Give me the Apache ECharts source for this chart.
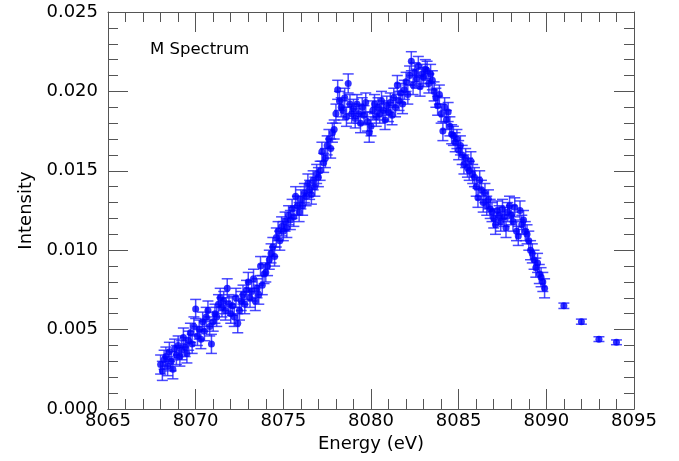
<!DOCTYPE html>
<html><head><meta charset="utf-8">
<script src="https://cdn.jsdelivr.net/npm/echarts@6/dist/echarts.min.js"></script>
<style>html,body{margin:0;padding:0;background:#fff}#c{width:679px;height:461px}</style>
</head><body><div id="c"></div>
<script>
const energy = [
8068.0,8068.1,8068.2,8068.3,8068.4,8068.5,8068.6,8068.7,8068.8,8068.9,
8069.0,8069.1,8069.2,8069.3,8069.4,8069.5,8069.6,8069.7,8069.8,8069.9,
8070.0,8070.1,8070.2,8070.3,8070.4,8070.5,8070.6,8070.7,8070.8,8070.9,
8071.0,8071.1,8071.2,8071.3,8071.4,8071.5,8071.6,8071.7,8071.8,8071.9,
8072.0,8072.1,8072.2,8072.3,8072.4,8072.5,8072.6,8072.7,8072.8,8072.9,
8073.0,8073.1,8073.2,8073.3,8073.4,8073.5,8073.6,8073.7,8073.8,8073.9,
8074.0,8074.1,8074.2,8074.3,8074.4,8074.5,8074.6,8074.7,8074.8,8074.9,
8075.0,8075.1,8075.2,8075.3,8075.4,8075.5,8075.6,8075.7,8075.8,8075.9,
8076.0,8076.1,8076.2,8076.3,8076.4,8076.5,8076.6,8076.7,8076.8,8076.9,
8077.0,8077.1,8077.2,8077.3,8077.4,8077.5,8077.6,8077.7,8077.8,8077.9,
8078.0,8078.1,8078.2,8078.3,8078.4,8078.5,8078.6,8078.7,8078.8,8078.9,
8079.0,8079.1,8079.2,8079.3,8079.4,8079.5,8079.6,8079.7,8079.8,8079.9,
8080.0,8080.1,8080.2,8080.3,8080.4,8080.5,8080.6,8080.7,8080.8,8080.9,
8081.0,8081.1,8081.2,8081.3,8081.4,8081.5,8081.6,8081.7,8081.8,8081.9,
8082.0,8082.1,8082.2,8082.3,8082.4,8082.5,8082.6,8082.7,8082.8,8082.9,
8083.0,8083.1,8083.2,8083.3,8083.4,8083.5,8083.6,8083.7,8083.8,8083.9,
8084.0,8084.1,8084.2,8084.3,8084.4,8084.5,8084.6,8084.7,8084.8,8084.9,
8085.0,8085.1,8085.2,8085.3,8085.4,8085.5,8085.6,8085.7,8085.8,8085.9,
8086.0,8086.1,8086.2,8086.3,8086.4,8086.5,8086.6,8086.7,8086.8,8086.9,
8087.0,8087.1,8087.2,8087.3,8087.4,8087.5,8087.6,8087.7,8087.8,8087.9,
8088.0,8088.1,8088.2,8088.3,8088.4,8088.5,8088.6,8088.7,8088.8,8088.9,
8089.0,8089.1,8089.2,8089.3,8089.4,8089.5,8089.6,8089.7,8089.8,8089.9,
8091.0,8092.0,8093.0,8094.0
];
const intensity = [
0.0028,0.0024,0.0031,0.0033,0.0027,0.0036,0.0030,0.0025,0.0038,0.0034,
0.0040,0.0033,0.0037,0.0045,0.0039,0.0035,0.0043,0.0048,0.0041,0.0052,
0.0063,0.0046,0.0050,0.0044,0.0055,0.0049,0.0058,0.0062,0.0052,0.0041,
0.0055,0.0060,0.0058,0.0066,0.0070,0.0064,0.0068,0.0062,0.0076,0.0066,
0.0060,0.0065,0.0058,0.0070,0.0054,0.0062,0.0068,0.0072,0.0066,0.0075,
0.0080,0.0070,0.0074,0.0082,0.0068,0.0076,0.0072,0.0090,0.0078,0.0085,
0.0086,0.0090,0.0094,0.0098,0.0102,0.0096,0.0108,0.0112,0.0106,0.0115,
0.0112,0.0118,0.0114,0.0122,0.0119,0.0126,0.0121,0.0134,0.0128,0.0124,
0.0132,0.0128,0.0136,0.0134,0.0142,0.0138,0.0135,0.0144,0.0140,0.0148,
0.0146,0.0150,0.0162,0.0155,0.0158,0.0166,0.0170,0.0164,0.0174,0.0176,
0.0186,0.0201,0.0194,0.0190,0.0188,0.0196,0.0184,0.0205,0.0192,0.0186,
0.0189,0.0183,0.0192,0.0186,0.0180,0.0190,0.0185,0.0193,0.0181,0.0174,
0.0178,0.0188,0.0192,0.0184,0.0190,0.0186,0.0194,0.0188,0.0182,0.0191,
0.0187,0.0193,0.0185,0.0196,0.0190,0.0204,0.0194,0.0199,0.0192,0.0201,
0.0206,0.0198,0.0210,0.0219,0.0204,0.0212,0.0208,0.0216,0.0203,0.0211,
0.0209,0.0214,0.0213,0.0205,0.0211,0.0207,0.0200,0.0196,0.0191,0.0198,
0.0186,0.0175,0.0190,0.0182,0.0187,0.0178,0.0173,0.0172,0.0168,0.0170,
0.0163,0.0166,0.0160,0.0154,0.0158,0.0152,0.0150,0.0156,0.0148,0.0146,
0.0140,0.0133,0.0144,0.0138,0.0130,0.0136,0.0128,0.0132,0.0126,0.0124,
0.0120,0.0116,0.0125,0.0122,0.0118,0.0126,0.0121,0.0114,0.0124,0.0128,
0.0122,0.0118,0.0127,0.0112,0.0109,0.0125,0.0116,0.0119,0.0112,0.0110,
0.0106,0.0100,0.0098,0.0094,0.0089,0.0092,0.0085,0.0083,0.0080,0.0076,
0.0065,0.0055,0.0044,0.0042
];
const denseError = 0.0006;
const tailEnergies = [8091.0,8092.0,8093.0,8094.0];
const tailErrors = [0.00017,0.00016,0.00015,0.00015];
const xTicks = [8065,8070,8075,8080,8085,8090,8095];
const yTicks = [0.000,0.005,0.010,0.015,0.020,0.025];

function errOf(x){ const i = tailEnergies.indexOf(x); return i >= 0 ? tailErrors[i] : denseError; }
const pts = energy.map((x,i)=>[x,intensity[i]]);
const errData = energy.map((x,i)=>[x,intensity[i]-errOf(x),intensity[i]+errOf(x)]);

const FONT = 'DejaVu Sans';
const axisCol = '#555';
function axisParts(){
  return {
    axisLine:{onZero:false,lineStyle:{color:axisCol,width:1}},
    splitLine:{show:false},
    axisTick:{inside:true,length:20,lineStyle:{color:axisCol,width:1}},
    minorTick:{show:true,splitNumber:5,length:10,lineStyle:{color:axisCol,width:1}}
  };
}
function xAx(extra){ return Object.assign({type:'value',min:xTicks[0],max:xTicks[xTicks.length-1],interval:5}, axisParts(), extra); }
function yAx(extra){ return Object.assign({type:'value',min:yTicks[0],max:yTicks[yTicks.length-1],interval:0.005}, axisParts(), extra); }

const chart = echarts.init(document.getElementById('c'));
chart.setOption({
  animation:false,
  grid:{left:108,right:45,top:12,bottom:52},
  xAxis:[
    xAx({position:'bottom',name:'Energy (eV)',nameLocation:'middle',nameGap:24,
      nameTextStyle:{fontFamily:FONT,fontSize:18,color:'#000'},
      axisLabel:{fontFamily:FONT,fontSize:18,color:'#000',margin:3,formatter:v=>String(v)}}),
    xAx({position:'top',axisLabel:{show:false}}),
    xAx({position:'bottom',axisLabel:{show:false}})
  ],
  yAxis:[
    yAx({position:'left',name:'Intensity',nameLocation:'middle',nameGap:73,
      nameTextStyle:{fontFamily:FONT,fontSize:18,color:'#000'},
      axisLabel:{fontFamily:FONT,fontSize:18,color:'#000',margin:10,formatter:v=>v.toFixed(3)}}),
    yAx({position:'right',axisLabel:{show:false}})
  ],
  graphic:[{type:'text',left:150,top:41,style:{text:'M Spectrum',fontFamily:FONT,fontSize:16.5,fill:'#000'}}],
  series:[
    {type:'custom',data:errData,encode:{x:0,y:[1,2]},z:1,
      renderItem:function(params,api){
        const x=api.value(0);
        const lo=api.coord([x,api.value(1)]);
        const hi=api.coord([x,api.value(2)]);
        const w=5.5;
        const st={stroke:'rgba(30,30,255,0.8)',lineWidth:1.5};
        return {type:'group',children:[
          {type:'line',shape:{x1:lo[0],y1:lo[1],x2:hi[0],y2:hi[1]},style:st},
          {type:'line',shape:{x1:lo[0]-w,y1:lo[1],x2:lo[0]+w,y2:lo[1]},style:st},
          {type:'line',shape:{x1:hi[0]-w,y1:hi[1],x2:hi[0]+w,y2:hi[1]},style:st}
        ]};
      }},
    {type:'scatter',data:pts,symbol:'circle',symbolSize:7,itemStyle:{color:'#0000ff'},z:2}
  ]
});
</script></body></html>
